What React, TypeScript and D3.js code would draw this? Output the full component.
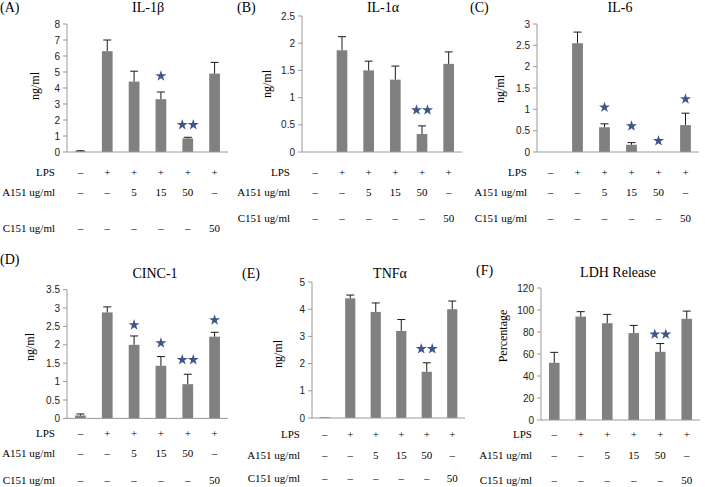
import React from "react";
import * as d3 from "d3";

// ---------- data ----------
const groups = ["g1", "g2", "g3", "g4", "g5", "g6"];
const lpsRow = ["–", "+", "+", "+", "+", "+"];
const a151Row = ["–", "–", "5", "15", "50", "–"];
const c151Row = ["–", "–", "–", "–", "–", "50"];
const rowLabels = ["LPS", "A151 ug/ml", "C151 ug/ml"];

const il1bValues = [0.05, 6.3, 4.4, 3.3, 0.85, 4.9];
const il1bErrors = [0.03, 0.7, 0.65, 0.45, 0.07, 0.7];
const il1bStarCount = [0, 0, 0, 1, 2, 0];
const il1bStarAt = [0, 0, 0, 4.75, 1.7, 0];
const il1bTicks = [0, 1, 2, 3, 4, 5, 6, 7, 8];

const il1aValues = [0, 1.87, 1.5, 1.33, 0.33, 1.62];
const il1aErrors = [0, 0.25, 0.17, 0.25, 0.15, 0.22];
const il1aStarCount = [0, 0, 0, 0, 2, 0];
const il1aStarAt = [0, 0, 0, 0, 0.77, 0];
const il1aTicks = [0, 0.5, 1, 1.5, 2, 2.5];

const il6Values = [0, 2.55, 0.58, 0.17, 0, 0.63];
const il6Errors = [0, 0.26, 0.08, 0.05, 0, 0.28];
const il6StarCount = [0, 0, 1, 1, 1, 1];
const il6StarAt = [0, 0, 1.05, 0.61, 0.26, 1.24];
const il6Ticks = [0, 0.5, 1, 1.5, 2, 2.5, 3];

const cincValues = [0.08, 2.88, 2.0, 1.43, 0.93, 2.22];
const cincErrors = [0.04, 0.15, 0.24, 0.25, 0.27, 0.12];
const cincStarCount = [0, 0, 1, 1, 2, 1];
const cincStarAt = [0, 0, 2.54, 2.05, 1.59, 2.67];
const cincTicks = [0, 0.5, 1, 1.5, 2, 2.5, 3, 3.5];

const tnfValues = [0.03, 4.4, 3.9, 3.2, 1.7, 4.0];
const tnfErrors = [0, 0.12, 0.33, 0.42, 0.33, 0.3];
const tnfStarCount = [0, 0, 0, 0, 2, 0];
const tnfStarAt = [0, 0, 0, 0, 2.54, 0];
const tnfTicks = [0, 1, 2, 3, 4, 5];

const ldhValues = [52, 94, 88, 79, 62, 92];
const ldhErrors = [9.5, 4.5, 8, 7, 7.5, 7];
const ldhStarCount = [0, 0, 0, 0, 2, 0];
const ldhStarAt = [0, 0, 0, 0, 78, 0];
const ldhTicks = [0, 20, 40, 60, 80, 100, 120];

// ---------- layout ----------
const panels = [
  { tag: "(A)", title: "IL-1β", ylabel: "ng/ml", values: il1bValues, errors: il1bErrors, starCount: il1bStarCount, starAt: il1bStarAt, ticks: il1bTicks,
    left: 67, right: 228, top: 24, bottom: 152, tagX: 0, tagY: 12, titleX: 148, titleY: 12, ylX: 35, ylY: 86, rows: [172, 192, 228], rowLabelX: 55 },
  { tag: "(B)", title: "IL-1α", ylabel: "ng/ml", values: il1aValues, errors: il1aErrors, starCount: il1aStarCount, starAt: il1aStarAt, ticks: il1aTicks,
    left: 302, right: 462, top: 16, bottom: 152, tagX: 237, tagY: 12, titleX: 383, titleY: 12, ylX: 267, ylY: 84, rows: [172, 192, 218], rowLabelX: 290 },
  { tag: "(C)", title: "IL-6", ylabel: "ng/ml", values: il6Values, errors: il6Errors, starCount: il6StarCount, starAt: il6StarAt, ticks: il6Ticks,
    left: 537, right: 699, top: 24, bottom: 152, tagX: 470, tagY: 12, titleX: 620, titleY: 12, ylX: 500, ylY: 89, rows: [172, 192, 218], rowLabelX: 527 },
  { tag: "(D)", title: "CINC-1", ylabel: "ng/ml", values: cincValues, errors: cincErrors, starCount: cincStarCount, starAt: cincStarAt, ticks: cincTicks,
    left: 67, right: 228, top: 289.6, bottom: 418.4, tagX: 0, tagY: 264, titleX: 155, titleY: 278, ylX: 30, ylY: 347, rows: [433, 453, 480], rowLabelX: 55 },
  { tag: "(E)", title: "TNFα", ylabel: "ng/ml", values: tnfValues, errors: tnfErrors, starCount: tnfStarCount, starAt: tnfStarAt, ticks: tnfTicks,
    left: 312, right: 465, top: 282, bottom: 418, tagX: 242, tagY: 278, titleX: 390, titleY: 278, ylX: 278, ylY: 354, rows: [434, 455, 478], rowLabelX: 300 },
  { tag: "(F)", title: "LDH Release", ylabel: "Percentage", values: ldhValues, errors: ldhErrors, starCount: ldhStarCount, starAt: ldhStarAt, ticks: ldhTicks,
    left: 541, right: 700, top: 288, bottom: 420, tagX: 476, tagY: 275, titleX: 618, titleY: 277, ylX: 503, ylY: 336, rows: [434, 455, 480], rowLabelX: 532 },
];

const rowData = [lpsRow, a151Row, c151Row];

const BAR = "#808080";
const STAR = "#3d5587";
const AXIS = "#9a9a9a";
const SERIF = "'Liberation Serif', 'Times New Roman', serif";
const SANS = "'Liberation Sans', Arial, sans-serif";

const starPath = d3.symbol(d3.symbolStar, 38)() as string;

function Panel({ p }: { p: (typeof panels)[number] }) {
  const yMax = p.ticks[p.ticks.length - 1];
  const x = d3.scaleBand<string>().domain(groups).range([p.left, p.right]).padding(0);
  const y = d3.scaleLinear().domain([0, yMax]).range([p.bottom, p.top]);
  const bw = x.bandwidth() * 0.4;
  const cx = (g: string) => (x(g) as number) + x.bandwidth() / 2;
  return (
    <g>
      <text x={p.tagX} y={p.tagY} fontFamily={SERIF} fontSize={14} fill="#000">{p.tag}</text>
      <text x={p.titleX} y={p.titleY} fontFamily={SERIF} fontSize={14} fill="#000" textAnchor="middle">{p.title}</text>
      <text transform={`translate(${p.ylX},${p.ylY}) rotate(-90)`} fontFamily={SERIF} fontSize={12} fill="#000" textAnchor="middle" dy="0.35em">{p.ylabel}</text>
      {/* y axis */}
      <line x1={p.left} x2={p.left} y1={y(yMax)} y2={p.bottom} stroke={AXIS} strokeWidth={1} />
      {p.ticks.map((t) => (
        <g key={t}>
          <line x1={p.left - 4} x2={p.left} y1={y(t)} y2={y(t)} stroke={AXIS} strokeWidth={1} />
          <text x={p.left - 7} y={y(t)} dy="0.35em" textAnchor="end" fontFamily={SANS} fontSize={10} fill="#222">{t}</text>
        </g>
      ))}
      {/* bars */}
      {groups.map((g, i) => {
        const v = p.values[i];
        const e = p.errors[i];
        const c = cx(g);
        return (
          <g key={g}>
            {v > 0 && <rect x={c - bw / 2} width={bw} y={y(v)} height={p.bottom - y(v)} fill={BAR} />}
            {e > 0 && (
              <g stroke="#1a1a1a" strokeWidth={1}>
                <line x1={c} x2={c} y1={y(v)} y2={y(v + e)} />
                <line x1={c - 4} x2={c + 4} y1={y(v + e)} y2={y(v + e)} />
              </g>
            )}
            {p.starCount[i] === 1 && <path d={starPath} transform={`translate(${c},${y(p.starAt[i])})`} fill={STAR} />}
            {p.starCount[i] === 2 && (
              <g>
                <path d={starPath} transform={`translate(${c - 5.5},${y(p.starAt[i])})`} fill={STAR} />
                <path d={starPath} transform={`translate(${c + 5.5},${y(p.starAt[i])})`} fill={STAR} />
              </g>
            )}
          </g>
        );
      })}
      {/* x axis */}
      <line x1={p.left} x2={p.right} y1={p.bottom} y2={p.bottom} stroke={AXIS} strokeWidth={1} />
      {/* table */}
      {rowLabels.map((lab, r) => (
        <g key={lab} fontFamily={SERIF} fontSize={11} fill="#000">
          <text x={p.rowLabelX} y={p.rows[r]} dy="0.35em" textAnchor="end">{lab}</text>
          {groups.map((g, i) => (
            <text key={g} x={cx(g)} y={p.rows[r]} dy="0.35em" textAnchor="middle">{rowData[r][i]}</text>
          ))}
        </g>
      ))}
    </g>
  );
}

export default function App() {
  return (
    <svg width={705} height={487} style={{ position: "absolute", left: 0, top: 0, background: "#fff" }}>
      <rect width={705} height={487} fill="#fff" />
      {panels.map((p) => (
        <Panel key={p.tag} p={p} />
      ))}
    </svg>
  );
}
